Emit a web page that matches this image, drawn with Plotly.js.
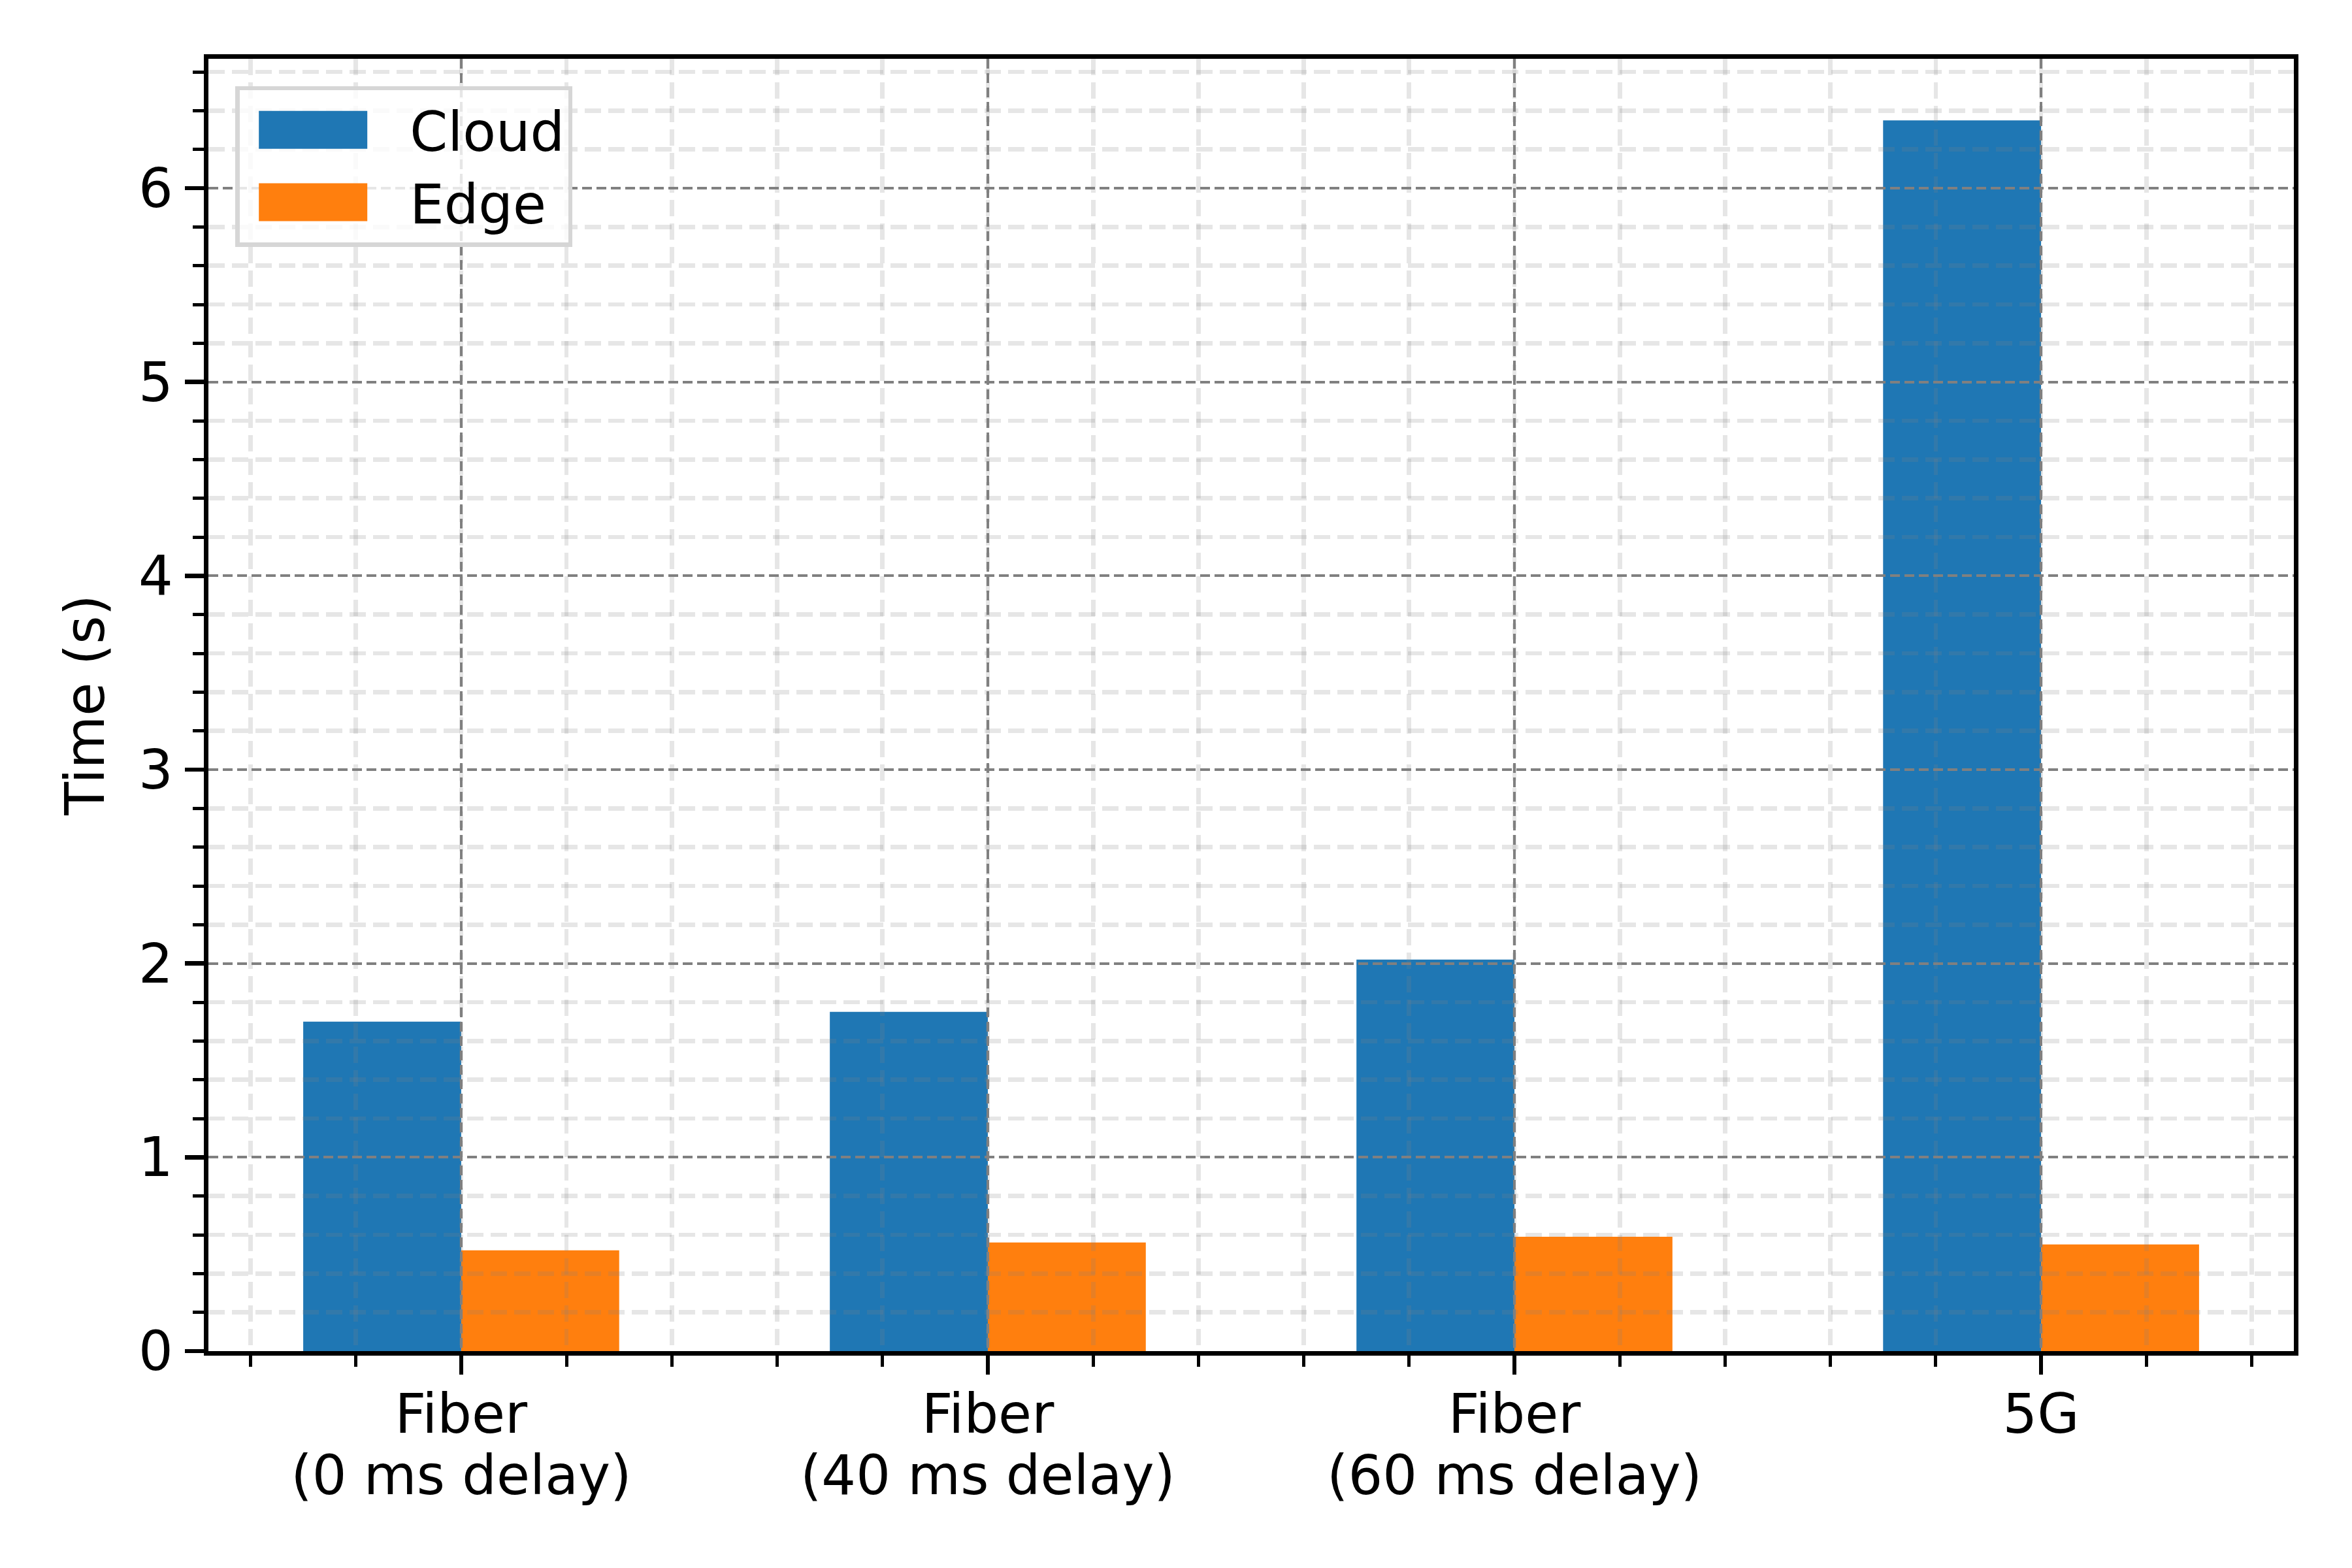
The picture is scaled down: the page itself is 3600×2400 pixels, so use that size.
<!DOCTYPE html>
<html>
<head>
<meta charset="utf-8">
<script src="https://cdn.plot.ly/plotly-3.0.1.min.js"></script>
<style>
  html, body { margin: 0; padding: 0; background: #fff; }
  #plot { width: 3600px; height: 2400px; }
</style>
</head>
<body>
<div id="plot"></div>
<script>
// Cloud vs edge response time per network setup (grouped bars)
const CATEGORIES = ['Fiber<br>(0 ms delay)', 'Fiber<br>(40 ms delay)', 'Fiber<br>(60 ms delay)', '5G'];
const POSITIONS = [0, 1, 2, 3];
const CLOUD = [1.70, 1.75, 2.02, 6.35];
const EDGE = [0.52, 0.56, 0.59, 0.55];
const SERIES = ['Cloud', 'Edge'];
const COLORS = ['#1f77b4', '#ff7f0e'];

const FONT = 'DejaVu Sans, sans-serif';
const FS = 83;          // 10 pt at 600 dpi
const BAR_W = 0.3;

// matplotlib-like limits: 5% margin on x, sticky zero on y
const xlo = Math.min(...POSITIONS) - BAR_W, xhi = Math.max(...POSITIONS) + BAR_W;
const xpad = 0.05 * (xhi - xlo);
const xRange = [xlo - xpad, xhi + xpad];
const yRange = [0, Math.max(...CLOUD, ...EDGE) * 1.05];

const traces = [
  { type: 'bar', x: POSITIONS, y: CLOUD, name: SERIES[0], width: BAR_W, offset: -BAR_W,
    marker: { color: COLORS[0], line: { width: 0 } }, xaxis: 'x', yaxis: 'y' },
  { type: 'bar', x: POSITIONS, y: EDGE, name: SERIES[1], width: BAR_W, offset: 0,
    marker: { color: COLORS[1], line: { width: 0 } }, xaxis: 'x', yaxis: 'y' },
  // empty trace so the grid/axes subplot gets drawn (on top of the bars)
  { type: 'scatter', mode: 'markers', x: [], y: [], xaxis: 'x2', yaxis: 'y2',
    showlegend: false, hoverinfo: 'skip' },
];

const tickStyle = {
  ticks: 'outside', ticklen: 29, tickwidth: 6.7, tickcolor: '#000',
  showline: true, linecolor: '#000', linewidth: 6.7, mirror: true,
  zeroline: false,
  showgrid: true, gridcolor: '#808080', gridwidth: 4.2, griddash: '15px,7px',
  tickfont: { family: FONT, size: FS, color: '#000' },
  minor: {
    dtick: 0.2, tick0: 0, ticks: 'outside', ticklen: 17, tickwidth: 5, tickcolor: '#000',
    showgrid: true, gridcolor: 'rgba(128,128,128,0.2)', gridwidth: 6.7, griddash: '25px,11px',
  },
};

const layout = {
  width: 3600, height: 2400,
  paper_bgcolor: '#fff', plot_bgcolor: 'rgba(0,0,0,0)',
  font: { family: FONT, size: FS, color: '#000' },
  margin: { l: 319, r: 89, t: 90, b: 332 },
  barmode: 'overlay',
  showlegend: true,
  // bars live on x/y, grid + axes on x2/y2 so the grid is drawn over the bars
  xaxis: { domain: [0, 1], anchor: 'y', range: xRange, visible: false, fixedrange: true },
  yaxis: { domain: [0, 1], anchor: 'x', range: yRange, visible: false, fixedrange: true },
  xaxis2: Object.assign({}, tickStyle, {
    domain: [0, 1], anchor: 'y2', range: xRange,
    tickmode: 'array', tickvals: POSITIONS, ticktext: CATEGORIES, ticklabelstandoff: -10,
  }),
  yaxis2: Object.assign({}, tickStyle, {
    domain: [0, 1], anchor: 'x2', range: yRange,
    tickmode: 'linear', tick0: 0, dtick: 1, ticklabelstandoff: 2,
    title: { text: 'Time (s)', font: { family: FONT, size: FS, color: '#000' }, standoff: 27 },
  }),
  legend: {
    x: 0.013, y: 0.979, xanchor: 'left', yanchor: 'top',
    bgcolor: 'rgba(255,255,255,0.8)', bordercolor: '#d6d6d6', borderwidth: 6.7,
    font: { family: FONT, size: FS, color: '#000' },
    itemwidth: 250, tracegroupgap: 0,
  },
};

Plotly.newPlot('plot', traces, layout, { staticPlot: true }).then(gd => {
  // matplotlib legend handles are wide rectangles, not small squares
  gd.querySelectorAll('.legend .legendpoints path').forEach(p => p.setAttribute('d', 'M-101,-29H65V29H-101Z'));
  // tighter line spacing for the two-line category labels
  gd.querySelectorAll('.x2tick text tspan.line').forEach(t => {
    if (parseFloat(t.getAttribute('dy')) > 0) t.setAttribute('dy', '1.13em');
  });
});
</script>
</body>
</html>
